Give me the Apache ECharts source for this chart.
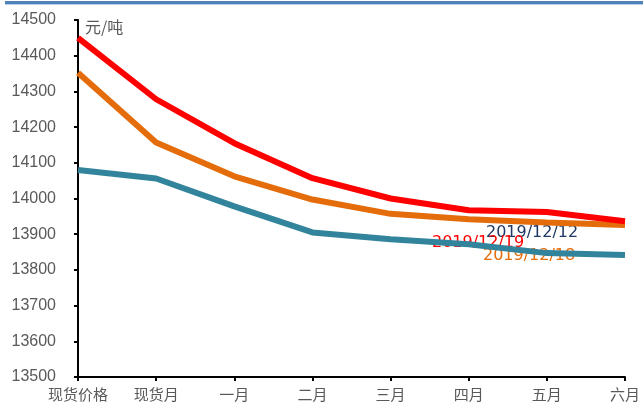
<!DOCTYPE html>
<html>
<head>
<meta charset="utf-8">
<script src="https://cdn.jsdelivr.net/npm/echarts@6/dist/echarts.min.js"></script>
<style>
  html, body { margin: 0; padding: 0; background: #fff; }
  #chart { width: 643px; height: 403px; }
</style>
</head>
<body>
<div id="chart"></div>
<script>
// Contract months along the curve
const categories = ['现货价格', '现货月', '一月', '二月', '三月', '四月', '五月', '六月'];

// Price curves (元/吨) on three dates
const curve1219 = [14450, 14278, 14155, 14057, 14000, 13967, 13962, 13936];
const curve1218 = [14352, 14157, 14062, 13997, 13957, 13942, 13933, 13926];
const curve1212 = [14080, 14056, 13978, 13905, 13886, 13872, 13847, 13842];

const seriesNames = ['2019/12/19', '2019/12/18', '2019/12/12'];
const yTicks = { min: 13500, max: 14500, interval: 100 };

const chart = echarts.init(document.getElementById('chart'));

const numFont = '"Liberation Sans", Arial, sans-serif';
const cjkFont = '"Noto Sans CJK SC", sans-serif';
const tagFont = '16px "DejaVu Sans", sans-serif';

chart.setOption({
  animation: false,
  grid: { left: 78, right: 15, top: 20, bottom: 26, containLabel: false },
  xAxis: {
    type: 'category',
    data: categories,
    boundaryGap: false,
    axisLine: { lineStyle: { color: '#000', width: 2 } },
    axisTick: { show: true, length: 4, lineStyle: { color: '#000', width: 2 } },
    axisLabel: { color: '#595959', fontSize: 15, fontFamily: cjkFont, margin: 10 },
    splitLine: { show: false }
  },
  yAxis: {
    type: 'value',
    min: yTicks.min,
    max: yTicks.max,
    interval: yTicks.interval,
    axisLine: { show: true, lineStyle: { color: '#000', width: 2 } },
    axisTick: { show: true, length: 4, lineStyle: { color: '#000', width: 2 } },
    axisLabel: { color: '#595959', fontSize: 16, fontFamily: numFont, margin: 22,
      formatter: v => String(v) },
    splitLine: { show: false }
  },
  graphic: [
    { type: 'rect', left: 5, top: 1, shape: { width: 638, height: 3 },
      style: { fill: '#4F81BD' }, silent: true },
    { type: 'rect', left: 5, top: 4, shape: { width: 638, height: 1 },
      style: { fill: '#B9CDE5' }, silent: true },
    { type: 'text', left: 85, top: 19,
      style: { text: '元/吨', fill: '#595959', font: '16px ' + cjkFont } },
    { type: 'text', left: 486, top: 225,
      style: { text: seriesNames[2], fill: '#1F3864', font: tagFont } },
    { type: 'text', left: 432, top: 235,
      style: { text: seriesNames[0], fill: '#FF0000', font: tagFont } },
    { type: 'text', left: 483, top: 248,
      style: { text: seriesNames[1], fill: '#E46C0A', font: tagFont } }
  ],
  series: [
    { name: seriesNames[2], type: 'line', data: curve1212, symbol: 'none',
      lineStyle: { color: '#31849B', width: 6 }, z: 2 },
    { name: seriesNames[1], type: 'line', data: curve1218, symbol: 'none',
      lineStyle: { color: '#E46C0A', width: 6 }, z: 3 },
    { name: seriesNames[0], type: 'line', data: curve1219, symbol: 'none',
      lineStyle: { color: '#FF0000', width: 6 }, z: 4 }
  ]
});
</script>
</body>
</html>
